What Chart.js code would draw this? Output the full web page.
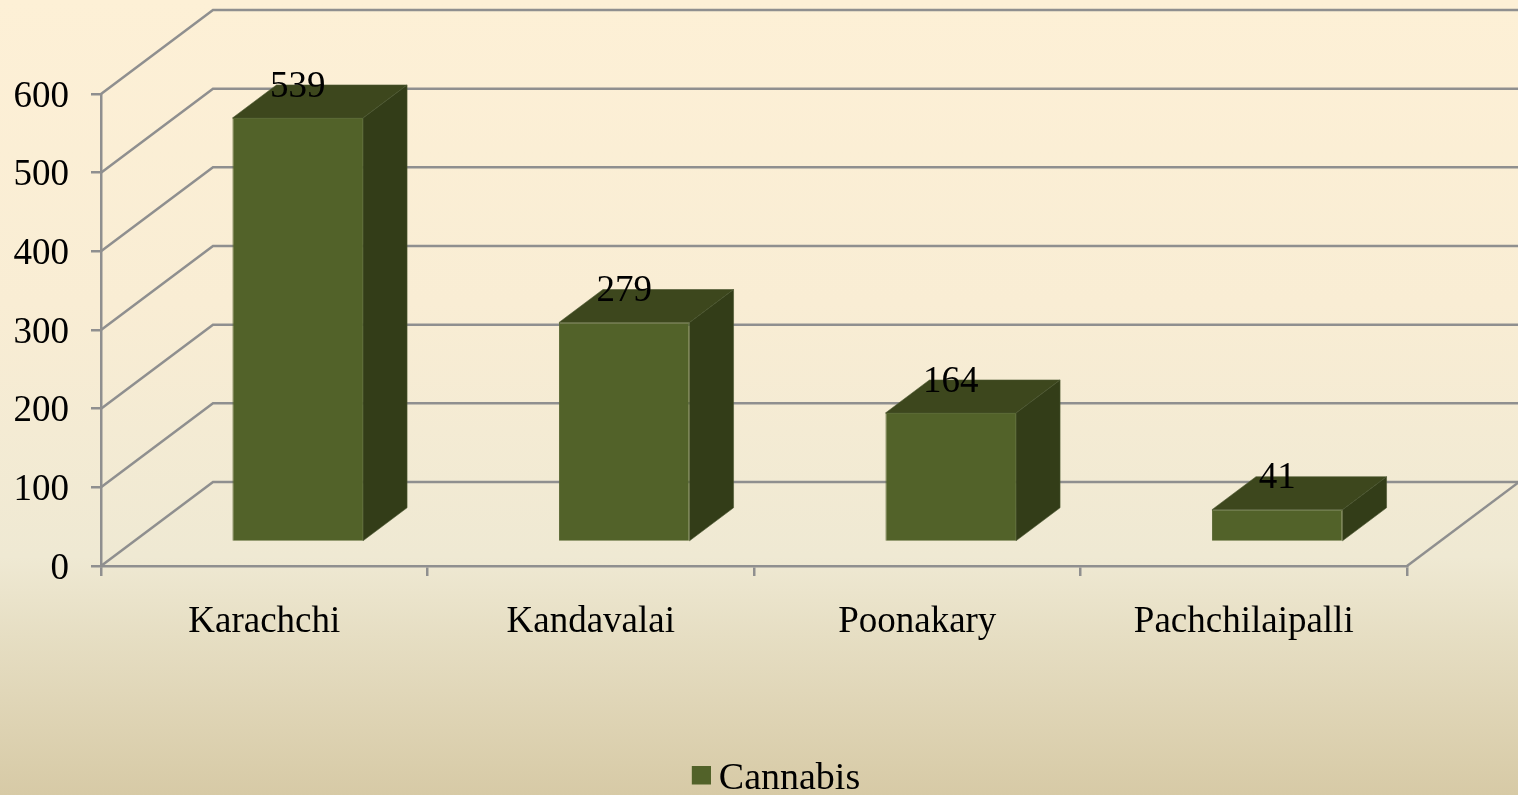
<!DOCTYPE html>
<html>
<head>
<meta charset="utf-8">
<title>Cannabis</title>
<script src="https://cdn.jsdelivr.net/npm/chart.js@4"></script>
<style>
html,body{margin:0;padding:0;overflow:hidden;}
body{
    width:1518px;height:795px;
    background:linear-gradient(180deg,#fdf0d6 0%,#f9edd4 38%,#efe9d3 70%,#e6dec3 80%,#d7caa6 100%);
}
#wrap{width:1518px;height:795px;position:relative;}
</style>
</head>
<body>
<div id="wrap"><canvas id="myChart" width="1518" height="795"></canvas></div>
<script>
const categories=['Karachchi','Kandavalai','Poonakary','Pachchilaipalli'];
const seriesName='Cannabis';
const cannabis=[539,279,164,41];
const yTicks=[0,100,200,300,400,500,600];

// depth of the fake 3d box
const DEPTH_X=112, DEPTH_Y=84;
// bars sit a bit behind the front plane
const BAR_DX=33.5, BAR_DY=24, BAR_DEPTH_X=44, BAR_DEPTH_Y=33;

const LINE='#8f8f8f';
const BAR_COLOR='#526229';
const FONT='"Liberation Serif","Times New Roman",serif';
const FONT_SIZE=37;

// legend square, the built in box leaves too wide a gap before the text
// canvas is bigger than the square so it lands up and right of the default spot
const legendBox=document.createElement('canvas');
legendBox.width=23;
legendBox.height=27;
legendBox.getContext('2d').fillStyle=BAR_COLOR;
legendBox.getContext('2d').fillRect(4,0,19,19);

function poly(ctx,pts,fill,edge){
    ctx.beginPath();
    pts.forEach((p,i)=>i?ctx.lineTo(p[0],p[1]):ctx.moveTo(p[0],p[1]));
    ctx.closePath();
    ctx.fillStyle=fill;
    ctx.fill();
    ctx.strokeStyle=edge;
    ctx.lineWidth=0.6;
    ctx.stroke();
}

const walls={
    id:'walls',
    afterLayout(chart){
        // legend is not where chart.js would put it
        const lg=chart.legend;
        lg.left+=76;lg.right+=76;
        lg.top+=13;lg.bottom+=13;
    },
    beforeDatasetsDraw(chart){
        const ctx=chart.ctx, a=chart.chartArea, y=chart.scales.y;
        ctx.save();
        ctx.strokeStyle=LINE;
        ctx.lineWidth=2.5;
        yTicks.forEach(v=>{
            const py=y.getPixelForValue(v);
            ctx.beginPath();
            ctx.moveTo(a.left,py);
            ctx.lineTo(a.left+DEPTH_X,py-DEPTH_Y);
            ctx.lineTo(a.right+DEPTH_X,py-DEPTH_Y);
            ctx.stroke();
        });
        ctx.beginPath();
        ctx.moveTo(a.right,a.bottom);
        ctx.lineTo(a.right+DEPTH_X,a.bottom-DEPTH_Y);
        ctx.stroke();
        ctx.restore();
    },
    beforeDatasetDraw(chart,args){
        const ctx=chart.ctx;
        ctx.save();
        ctx.translate(BAR_DX,-BAR_DY);
        args.meta.data.forEach(b=>{
            const l=b.x-b.width/2, r=b.x+b.width/2;
            poly(ctx,[[l,b.y],[r,b.y],[r+BAR_DEPTH_X,b.y-BAR_DEPTH_Y],[l+BAR_DEPTH_X,b.y-BAR_DEPTH_Y]],'#3d471d','#4a5530');
            poly(ctx,[[r,b.y],[r+BAR_DEPTH_X,b.y-BAR_DEPTH_Y],[r+BAR_DEPTH_X,b.base-BAR_DEPTH_Y],[r,b.base]],'#333d18','#4a5530');
        });
    },
    afterDatasetDraw(chart,args){
        const ctx=chart.ctx;
        ctx.fillStyle='#000';
        ctx.font=FONT_SIZE+'px '+FONT;
        ctx.textAlign='center';
        ctx.textBaseline='middle';
        args.meta.data.forEach((b,i)=>{
            ctx.fillText(cannabis[i],b.x,b.y-BAR_DEPTH_Y+2);
        });
        ctx.restore();
    }
};

new Chart(document.getElementById('myChart'),{
    type:'bar',
    data:{
        labels:categories,
        datasets:[{
            label:seriesName,
            data:cannabis,
            backgroundColor:BAR_COLOR,
            borderColor:'#5a6934',
            borderWidth:1,
            categoryPercentage:1,
            barPercentage:0.4,
        }],
    },
    options:{
        responsive:false,
        animation:false,
        layout:{padding:{top:94,right:111,left:0,bottom:0}},
        scales:{
            x:{
                grid:{drawOnChartArea:false,drawTicks:true,tickLength:10,color:LINE,lineWidth:2.5},
                border:{display:true,color:LINE,width:2.5},
                ticks:{color:'#000',font:{family:FONT,size:FONT_SIZE},padding:24,maxRotation:0},
                afterFit(s){s.height=181;},
            },
            y:{
                min:0,max:600,
                afterBuildTicks(s){s.ticks=yTicks.map(v=>({value:v}));},
                grid:{drawOnChartArea:false,drawTicks:true,tickLength:10,color:LINE,lineWidth:2.5},
                border:{display:true,color:LINE,width:2.5},
                ticks:{color:'#000',font:{family:FONT,size:FONT_SIZE},padding:22,labelOffset:3},
                afterFit(s){s.width=101;},
            },
        },
        plugins:{
            tooltip:{enabled:false},
            legend:{
                position:'bottom',
                labels:{color:'#000',font:{family:FONT,size:38},usePointStyle:true,pointStyle:legendBox,pointStyleWidth:1,padding:0},
            },
        },
    },
    plugins:[walls],
});
</script>
</body>
</html>
